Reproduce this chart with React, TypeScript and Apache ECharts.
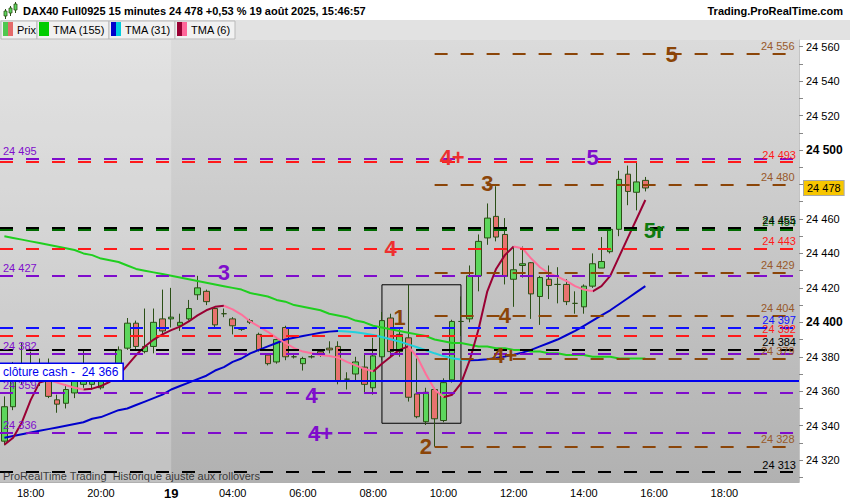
import * as echarts from "echarts";
import { useEffect, useRef } from "react";

// DAX40 Full0925, 15 min bars, 18-19 Aug 2025
const FONT = "'Liberation Sans', Arial, sans-serif";

function quarterHours(day: string, start: string, count: number) {
  const [h, m] = start.split(":").map(Number);
  return Array.from({ length: count }, (_, k) => {
    const t = h * 60 + m + 15 * k;
    return `${day} ${String(Math.floor(t / 60)).padStart(2, "0")}:${String(t % 60).padStart(2, "0")}`;
  });
}

const categories = [...quarterHours("18", "17:15", 19), ...quarterHours("19", "02:15", 72)];

const xTickLabels: Record<string, string> = {
  "18 18:00": "18:00",
  "18 20:00": "20:00",
  "19 02:15": "19",
  "19 04:00": "04:00",
  "19 06:00": "06:00",
  "19 08:00": "08:00",
  "19 10:00": "10:00",
  "19 12:00": "12:00",
  "19 14:00": "14:00",
  "19 16:00": "16:00",
  "19 18:00": "18:00"
};

const yLabelValues = [24320, 24340, 24360, 24380, 24400, 24420, 24440, 24460, 24480, 24500, 24520, 24540, 24560];
const yTickValues = [24310, 24320, 24330, 24340, 24350, 24360, 24370, 24380, 24390, 24400, 24410, 24420, 24430, 24440, 24450, 24460, 24470, 24480, 24490, 24500, 24510, 24520, 24530, 24540, 24550, 24560];

// [open, close, low, high]
const ohlc: [number, number, number, number][] = [
  [24331, 24351, 24328.6, 24357], [24351, 24374, 24349, 24377], [24366, 24376, 24364, 24388], [24376, 24367, 24365, 24383],
  [24367, 24371, 24363, 24379], [24373, 24357, 24356, 24379], [24355, 24352.5, 24347.5, 24358], [24353, 24361, 24350, 24364],
  [24359, 24366, 24356, 24370], [24364, 24366, 24362, 24384], [24364, 24366.5, 24361, 24369], [24362, 24366.5, 24361, 24370],
  [24370, 24373, 24366, 24375], [24372, 24384, 24371, 24386], [24385, 24399.5, 24384, 24402.5], [24399.5, 24386, 24384, 24401],
  [24383, 24386, 24382, 24408], [24386, 24400, 24382, 24408], [24402, 24395, 24392, 24419], [24402, 24403, 24397, 24420],
  [24398, 24400, 24395, 24405], [24402, 24408, 24401, 24413], [24416, 24420, 24413, 24427], [24418, 24412, 24410, 24419],
  [24408, 24398.5, 24397, 24409], [24405, 24405, 24403, 24408], [24402, 24398, 24393, 24403], [24396, 24396, 24395, 24397],
  [24400, 24401, 24399, 24402], [24393, 24384, 24383, 24394], [24381, 24376, 24375, 24382], [24377, 24390, 24376, 24391],
  [24397, 24380, 24378, 24398], [24380, 24380, 24379, 24381], [24376, 24379, 24372, 24380], [24380, 24380, 24379, 24381],
  [24383, 24382, 24380, 24384], [24385, 24384, 24382, 24389], [24386, 24366, 24364, 24389], [24367, 24367, 24361, 24371],
  [24370, 24377, 24366, 24380], [24374, 24364, 24359, 24382], [24362, 24380.5, 24358, 24391], [24380, 24401, 24378, 24406],
  [24402.5, 24383, 24380, 24405], [24383, 24393, 24380, 24396], [24391, 24356.5, 24354, 24421.8], [24358.4, 24345.2, 24344.3, 24379],
  [24342.3, 24359.4, 24340.4, 24362], [24361, 24344, 24327.8, 24362], [24343, 24365, 24342, 24367.5], [24366.6, 24400.5, 24365, 24401.5],
  [24400.5, 24400.5, 24392, 24415], [24402, 24427, 24400, 24433], [24427, 24447, 24418, 24451], [24449, 24460.5, 24445, 24469],
  [24461.5, 24449.5, 24447, 24479], [24451, 24426.6, 24422, 24460.5], [24425, 24430.5, 24409, 24444], [24433, 24434, 24426, 24444],
  [24434.6, 24416.5, 24402, 24435], [24415, 24426, 24398.5, 24427], [24425, 24421.4, 24413.5, 24433], [24422, 24422, 24411, 24432],
  [24422, 24412, 24410, 24425], [24411, 24411, 24405, 24418], [24409, 24421, 24405, 24422], [24421, 24434, 24420, 24440],
  [24431.5, 24435.3, 24431.5, 24449.5], [24441, 24454, 24440, 24455], [24454, 24483, 24450, 24488], [24486, 24476, 24468, 24491],
  [24475.5, 24481.5, 24465, 24493.5], [24482.4, 24478, 24476, 24484.4]
];

const tma155 = [
  24450, 24449, 24448, 24447, 24446, 24445, 24444, 24443, 24442, 24440, 24439, 24437, 24436, 24435, 24433, 24431,
  24430, 24429, 24428, 24427, 24426, 24425, 24424, 24423, 24422, 24421, 24420, 24419, 24417, 24416, 24415, 24413,
  24412, 24410, 24409, 24408, 24407, 24405, 24404, 24403, 24401, 24400, 24398, 24397, 24396, 24395, 24394, 24393,
  24392, 24390, 24389, 24388, 24388, 24387, 24386, 24386, 24385, 24385, 24384, 24384, 24383, 24383, 24382, 24382,
  24381, 24381, 24381, 24380, 24380, 24380, 24379, 24379, 24379, 24379
];

const tma31 = [
  24333, 24334, 24335, 24336, 24337, 24338, 24339, 24340, 24341, 24342, 24344, 24345, 24347, 24349, 24350, 24352,
  24354, 24356, 24358, 24361, 24363, 24365, 24367, 24369, 24372, 24374, 24377, 24379, 24382, 24384, 24386, 24388,
  24390, 24391, 24392, 24393, 24394, 24394.6, 24395, 24394.7, 24394.2, 24393.5, 24392.6, 24391.5, 24390.2, 24388.8,
  24387.2, 24385.5, 24383.8, 24382, 24380.4, 24379.2, 24378.4, 24378, 24378.1, 24378.6, 24379.3, 24380.2, 24381.2,
  24382.4, 24384, 24386, 24388, 24390, 24392.5, 24395, 24398, 24401, 24404, 24407, 24410.5, 24414, 24417.5, 24421
];

const tma6 = [
  24329, 24333, 24342, 24355, 24365, 24366.5, 24365, 24363.5, 24362, 24361, 24361.5, 24363, 24365.5, 24369, 24375, 24381,
  24386, 24390, 24393, 24395.5, 24397.5, 24400.5, 24404, 24407, 24409, 24409.6, 24407.5, 24404.5, 24400.5, 24397.5,
  24394.5, 24391, 24388, 24385, 24383, 24382, 24381, 24380.5, 24379.5, 24377, 24375, 24373, 24371.5, 24376, 24380,
  24384, 24386, 24380, 24370, 24361, 24356.5, 24358, 24364.5, 24378, 24396, 24418, 24431, 24439, 24444, 24443, 24437,
  24432, 24428.5, 24426.5, 24424, 24421, 24419, 24418, 24421, 24427, 24438, 24449, 24460, 24471
];

// horizontal levels
const purpleLevels = [24495, 24427, 24382, 24359, 24336];
const redLevels = [24493, 24443, 24392];
const blackLevels = [24455, 24384, 24313];
const greenLevels = [24454];
const blueLevels = [24397];
const brownLevels = [24556, 24480, 24429, 24404, 24379, 24328];
const brownStart = 49;
const cashClose = 24366;
const lastPrice = 24478;

const C = {
  purple: "#7f0ccc",
  red: "#ff1a1a",
  black: "#000000",
  green: "#006b00",
  blue: "#1010ff",
  brown: "#8b4508",
  brownText: "#98592a"
};

// wave counts: [slot, price, text, colour]
const waveLabels: [number, number, string, string][] = [
  [76, 24555.2, "5", C.brown],
  [51, 24495.4, "4+", "#ee3030"],
  [67, 24495.4, "5", C.purple],
  [55, 24480.8, "3", C.brown],
  [74, 24453.5, "5r", "#0f7a0f"],
  [44, 24443, "4", "#ee3030"],
  [25, 24429, "3", C.purple],
  [45, 24403, "1", C.brown],
  [57, 24404, "4", C.brown],
  [57, 24381, "4+", C.brown],
  [35, 24357.7, "4", C.purple],
  [36, 24335.7, "4+", C.purple],
  [48, 24328, "2", C.brown]
];

const boxFrom = [43, 24421.8];
const boxTo = [52, 24341.4];

const fmt = (v: number) => {
  const s = Math.round(v).toString();
  return s.slice(0, -3) + " " + s.slice(-3);
};

function splitTrend(vals: number[]) {
  const up: (number | string)[][] = [];
  const down: (number | string)[][] = [];
  let dir = vals[1] >= vals[0];
  let run: (number | string)[][] = [[0, vals[0]]];
  for (let i = 1; i < vals.length; i++) {
    const d = vals[i] === vals[i - 1] ? dir : vals[i] > vals[i - 1];
    if (d !== dir) {
      (dir ? up : down).push(...run, [i - 1, "-"]);
      run = [[i - 1, vals[i - 1]]];
      dir = d;
    }
    run.push([i, vals[i]]);
  }
  (dir ? up : down).push(...run);
  return { up, down };
}

const dash = [13, 13];

function levelLine(v: number, color: string, side: "start" | "end", textColor?: string) {
  return {
    yAxis: v,
    lineStyle: { color, width: 2, type: dash },
    label: {
      show: true,
      position: side === "start" ? "insideStartTop" : "insideEndTop",
      formatter: fmt(v),
      color: textColor ?? color,
      fontSize: 11,
      fontFamily: FONT,
      distance: [3, 2]
    }
  };
}

function lineSeries(name: string, data: (number | string)[][], color: string) {
  return {
    name,
    type: "line",
    data,
    showSymbol: false,
    symbol: "none",
    lineStyle: { color, width: 2 },
    silent: true,
    z: 4
  };
}

export default function App() {
  const ref = useRef<HTMLDivElement>(null);

  useEffect(() => {
    if (!ref.current) return;
    document.body.style.margin = "0";
    const chart = echarts.init(ref.current, null, { renderer: "svg" });

    const t31 = splitTrend(tma31);
    const t6 = splitTrend(tma6);

    const markLines: any[] = [
      ...greenLevels.map((v) => levelLine(v, C.green, "end")),
      ...blackLevels.map((v) => levelLine(v, C.black, "end")),
      ...redLevels.map((v) => levelLine(v, C.red, "end")),
      ...blueLevels.map((v) => levelLine(v, C.blue, "end")),
      ...purpleLevels.map((v) => levelLine(v, C.purple, "start")),
      ...brownLevels.map((v) => [
        { coord: [brownStart, v], lineStyle: { color: C.brown, width: 2, type: dash } },
        {
          coord: [categories.length - 1, v],
          label: {
            show: true,
            position: "insideEndTop",
            formatter: fmt(v),
            color: C.brownText,
            fontSize: 11,
            fontFamily: FONT,
            distance: [0, 2]
          }
        }
      ]),
      {
        yAxis: cashClose,
        lineStyle: { color: "#0000ee", width: 2, type: "solid" },
        label: {
          show: true,
          position: "insideStartTop",
          formatter: `clôture cash -  ${fmt(cashClose)}`,
          color: "#0000ee",
          fontSize: 12,
          fontFamily: FONT,
          backgroundColor: "#ffffff",
          borderColor: "#0000ee",
          borderWidth: 1.5,
          padding: [2, 4, 2, 3],
          distance: [0, 1]
        }
      },
      {
        yAxis: lastPrice,
        lineStyle: { color: "rgba(0,0,0,0)", width: 1, type: "solid" },
        label: {
          show: true,
          position: "end",
          formatter: fmt(lastPrice),
          color: "#000",
          fontSize: 11,
          fontFamily: FONT,
          backgroundColor: "#f7c600",
          borderColor: "#a8a8a8",
          borderWidth: 1,
          padding: [2, 3, 1, 3],
          distance: 5
        }
      }
    ];

    const legendItems = [
      { x: 1, w: 36, text: "Prix", colors: ["#4fc84f", "#e46a6a"] },
      { x: 37, w: 72, text: "TMA (155)", colors: ["#00cc00", "#00cc00"] },
      { x: 109, w: 66, text: "TMA (31)", colors: ["#0000cc", "#00ccdd"] },
      { x: 175, w: 60, text: "TMA (6)", colors: ["#990033", "#ff6699"] }
    ];

    const graphics: any[] = [
      { id: "legendBar", type: "rect", shape: { x: 0, y: 20, width: 850, height: 20 }, style: { fill: "#e2e2e2" }, silent: true },
      ...legendItems.flatMap((it, k) => [
        {
          id: `lgBox${k}`,
          type: "rect",
          shape: { x: it.x, y: 21, width: it.w, height: 18 },
          style: { fill: "#f1f1f1", stroke: "#b9b9b9", lineWidth: 1 },
          silent: true
        },
        { id: `lgA${k}`, type: "rect", shape: { x: it.x + 2, y: 22, width: 5, height: 14 }, style: { fill: it.colors[0] }, silent: true },
        { id: `lgB${k}`, type: "rect", shape: { x: it.x + 7, y: 22, width: 5, height: 14 }, style: { fill: it.colors[1] }, silent: true },
        {
          id: `lgT${k}`,
          type: "text",
          x: it.x + 16,
          y: 30,
          style: { text: it.text, font: `11px ${FONT}`, fill: "#000", textVerticalAlign: "middle" },
          silent: true
        }
      ]),
      // candle icon
      { id: "ic1", type: "line", shape: { x1: 5.5, y1: 9, x2: 5.5, y2: 19 }, style: { stroke: "#2d5016", lineWidth: 1 }, silent: true },
      { id: "ic2", type: "rect", shape: { x: 4, y: 11, width: 3, height: 5 }, style: { fill: "#5cd65c", stroke: "#2d5016", lineWidth: 0.8 }, silent: true },
      { id: "ic3", type: "line", shape: { x1: 10.5, y1: 6, x2: 10.5, y2: 16 }, style: { stroke: "#2d5016", lineWidth: 1 }, silent: true },
      { id: "ic4", type: "rect", shape: { x: 9, y: 8, width: 3, height: 5 }, style: { fill: "#5cd65c", stroke: "#2d5016", lineWidth: 0.8 }, silent: true },
      { id: "ic5", type: "line", shape: { x1: 15.5, y1: 2, x2: 15.5, y2: 13 }, style: { stroke: "#2d5016", lineWidth: 1 }, silent: true },
      { id: "ic6", type: "rect", shape: { x: 14, y: 4, width: 3, height: 6 }, style: { fill: "#5cd65c", stroke: "#2d5016", lineWidth: 0.8 }, silent: true },
      {
        id: "title",
        type: "text",
        x: 23,
        y: 11,
        style: {
          text: "DAX40 Full0925 15 minutes 24 478 +0,53 % 19 août 2025, 15:46:57",
          font: `bold 11px ${FONT}`,
          fill: "#000",
          textVerticalAlign: "middle"
        },
        silent: true
      },
      {
        id: "site",
        type: "text",
        x: 843,
        y: 11,
        style: {
          text: "Trading.ProRealTime.com",
          font: `bold 11px ${FONT}`,
          fill: "#000",
          textAlign: "right",
          textVerticalAlign: "middle"
        },
        silent: true
      },
      {
        id: "watermark",
        type: "text",
        x: 3,
        y: 476,
        z: 20,
        style: {
          text: "ProRealTime Trading  Historique ajusté aux rollovers",
          font: `11px ${FONT}`,
          fill: "rgba(30,30,30,0.85)",
          textVerticalAlign: "middle"
        },
        silent: true
      }
    ];

    chart.setOption({
      animation: false,
      backgroundColor: "#ffffff",
      textStyle: { fontFamily: FONT },
      grid: {
        left: 0,
        right: 51,
        top: 40,
        bottom: 18,
        show: true,
        borderWidth: 0,
        backgroundColor: new echarts.graphic.LinearGradient(0, 0, 0, 1, [
          { offset: 0, color: "#dbdbdb" },
          { offset: 1, color: "#b1b1b1" }
        ])
      },
      xAxis: {
        type: "category",
        data: categories,
        boundaryGap: true,
        axisLine: { lineStyle: { color: "#b0b0b0" } },
        axisTick: {
          alignWithLabel: true,
          length: 4,
          lineStyle: { color: "#888" },
          interval: (_: number, v: string) => v in xTickLabels
        },
        axisLabel: {
          interval: (_: number, v: string) => v in xTickLabels,
          formatter: (v: string) => (v === "19 02:15" ? "{b|19}" : xTickLabels[v] ?? ""),
          color: "#000",
          fontSize: 11,
          margin: 5,
          rich: { b: { fontWeight: "bold", fontSize: 13, color: "#000" } }
        },
        splitLine: { show: false }
      },
      yAxis: {
        type: "value",
        position: "right",
        min: 24307.3,
        max: 24563.9,
        scale: true,
        axisLine: { show: true, lineStyle: { color: "#c4c4c4" } },
        axisTick: { show: true, length: 4, lineStyle: { color: "#888" }, customValues: yTickValues },
        axisLabel: {
          customValues: yLabelValues,
          margin: 7,
          color: "#000",
          fontSize: 11,
          formatter: (v: number) => (v === 24400 || v === 24500 ? `{b|${fmt(v)}}` : fmt(v)),
          rich: { b: { fontWeight: "bold", fontSize: 12, color: "#000" } }
        },
        splitLine: { show: false }
      },
      graphic: graphics,
      series: [
        {
          name: "Prix",
          type: "candlestick",
          data: ohlc,
          barWidth: 6,
          z: 3,
          itemStyle: {
            color: "#5cd65c",
            color0: "#e8736f",
            borderColor: "#2b4f16",
            borderColor0: "#2b4f16",
            borderColorDoji: "#2b4f16",
            borderWidth: 1
          },
          markLine: { symbol: "none", silent: true, animation: false, z: 5, data: markLines },
          markArea: {
            silent: true,
            itemStyle: { color: "rgba(0,0,0,0)", borderColor: "#000", borderWidth: 1 },
            data: [[{ coord: boxFrom }, { coord: boxTo }]]
          }
        },
        lineSeries("TMA (155)", tma155.map((v, i) => [i, v]), "#1fcf1f"),
        lineSeries("TMA (31) up", t31.up, "#0000cc"),
        lineSeries("TMA (31) down", t31.down, "#22d0dd"),
        lineSeries("TMA (6) up", t6.up, "#990033"),
        lineSeries("TMA (6) down", t6.down, "#ff6f9a"),
        {
          name: "waves",
          type: "scatter",
          symbolSize: 2,
          itemStyle: { color: "rgba(0,0,0,0)", opacity: 1 },
          silent: true,
          z: 10,
          data: waveLabels.map(([x, y, text, color]) => ({
            value: [x, y],
            name: text,
            label: {
              show: true,
              position: "inside",
              formatter: "{b}",
              color,
              opacity: 1,
              fontSize: 22,
              fontWeight: "bold",
              fontFamily: FONT
            }
          }))
        }
      ]
    });

    // lighter shading for the previous session (left of the "19" day break)
    const split = chart.convertToPixel({ xAxisIndex: 0 }, "19 02:15") as number;
    const top = chart.convertToPixel({ yAxisIndex: 0 }, 24563.9) as number;
    const bottom = chart.convertToPixel({ yAxisIndex: 0 }, 24307.3) as number;
    chart.setOption({
      graphic: [
        {
          id: "prevSession",
          type: "rect",
          z: 1,
          silent: true,
          shape: { x: 0, y: top, width: split, height: bottom - top },
          style: { fill: "rgba(255,255,255,0.22)" }
        }
      ]
    });

    return () => chart.dispose();
  }, []);

  return <div ref={ref} style={{ width: 850, height: 500 }} />;
}
